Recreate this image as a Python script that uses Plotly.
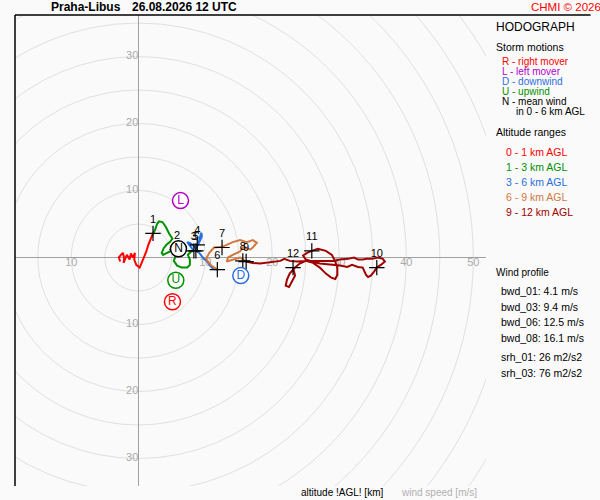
import plotly.graph_objects as go

# hodograph segments, wind components in m/s (u east, v north)
red_u = [-2.7, -2.9, -2.6, -2.3, -2.1, -2.2, -1.7, -1.3, -1.1, -0.8, -0.5, -0.6, -0.3, 0.2, 0.5, 0.8, 1.2, 1.5, 1.9, 2.2]
red_v = [-0.6, 0.0, 0.4, 0.7, -0.1, -0.8, 0.4, -0.3, 0.6, 0.0, 0.7, -0.3, -1.1, -1.5, -0.8, -0.1, 0.9, 1.9, 2.8, 3.6]

green_u = [2.2, 2.5, 2.8, 3.1, 3.6, 4.1, 4.6, 5.1, 4.7, 4.2, 3.8, 3.5, 3.7, 4.3, 4.7, 5.3, 5.8,
           5.6, 5.3, 5.8, 6.5, 7.3, 7.7, 7.7, 7.4, 7.9, 8.3]
green_v = [3.6, 4.1, 5.0, 5.4, 5.3, 4.6, 3.6, 2.8, 2.3, 1.9, 1.4, 0.7, 0.4, 0.7, 1.0, 1.2, 1.2,
           0.3, -0.5, -1.2, -1.5, -1.5, -1.1, -0.3, 0.4, 0.9, 1.0]

blue_u = [8.3, 7.6, 7.3, 7.7, 8.2, 8.6, 8.9, 9.2, 9.5, 9.4, 9.1, 8.8, 8.6, 9.1, 9.4, 9.8, 10.3, 10.7, 11.2, 11.8]
blue_v = [1.0, 1.8, 2.3, 2.2, 1.8, 1.3, 1.8, 2.5, 3.2, 3.7, 2.6, 1.9, 1.2, 0.7, 0.3, -0.2, -0.6, -1.2, -1.7, -1.8]

orange_u = [11.8, 10.9, 10.1, 10.6, 11.3, 12.5, 13.2, 14.1, 15.2, 16.2, 17.1, 17.7, 17.1, 16.7,
            15.6, 15.2, 14.1, 13.4, 13.2, 14.1, 15.2, 16.1]
orange_v = [-1.8, -1.2, -0.2, 0.7, 1.5, 1.6, 1.9, 2.3, 2.6, 2.3, 2.6, 2.2, 1.5, 1.2,
            1.5, 0.9, 0.4, 0.0, -0.6, -0.3, 0.0, -0.6]

darkred_u = [16.1, 17.1, 18.2, 19.2, 20.3, 21.2, 21.8, 22.6, 23.7, 24.9, 26.4, 27.9, 29.1, 30.1,
             31.3, 32.2, 32.8, 33.5, 34.1, 34.9, 35.8, 36.5, 36.8, 36.2, 35.6,
             35.2, 34.7, 34.3, 34.0, 33.5, 32.8, 31.9, 31.2, 30.1, 28.6, 27.1, 25.9, 25.0, 24.6,
             25.2, 25.9, 26.8, 28.0, 28.9, 29.4, 29.7, 29.7, 29.4, 28.8, 28.0, 27.1, 26.1, 25.0,
             24.1, 23.4, 22.6, 22.2, 22.0, 22.5, 22.9, 23.4, 23.1]
darkred_v = [-0.6, -0.8, -0.9, -0.8, -0.6, -0.5, -0.2, -0.5, -0.6, -0.5, -0.5, -0.5, -0.5, -0.3,
             -0.2, 0.0, -0.3, -0.3, -0.2, -0.2, 0.0, -0.2, -0.6, -1.1, -1.5,
             -2.1, -2.7, -2.9, -2.6, -1.5, -1.4, -1.1, -1.4, -1.2, -1.1, -0.9, -0.6, -0.3, 0.3,
             0.7, 1.0, 1.3, 1.0, 0.4, -0.6, -1.5, -2.6, -3.2, -3.0, -2.4, -1.5, -0.8, -0.5,
             -0.9, -1.5, -2.4, -3.3, -4.2, -4.4, -3.6, -2.7, -1.5]

# altitude marks (km AGL)
height_km = [1, 2, 3, 4, 5, 6, 7, 8, 9, 10, 11, 12]
height_u = [2.2, 5.8, 8.3, 8.8, 8.6, 11.8, 12.5, 15.6, 16.1, 35.6, 25.9, 23.1]
height_v = [3.6, 1.2, 1.0, 1.9, 1.0, -1.8, 1.5, -0.5, -0.6, -1.5, 1.0, -1.5]

# storm motions
storm_labels = ["R", "L", "D", "U", "N"]
storm_u = [5.1, 6.3, 15.3, 5.6, 6.0]
storm_v = [-6.6, 8.5, -2.7, -3.4, 1.3]
storm_colors = ["#ff0000", "#b400c8", "#2a6fe0", "#009000", "#000000"]

ring_radii = [5, 10, 15, 20, 25, 30, 35, 40, 45, 50, 55, 60, 65]
ring_label_x = [-10, 10, 20, 30, 40, 50, 0, 0, 0, 0, 0, 0]
ring_label_y = [0, 0, 0, 0, 0, 0, 10, 20, 30, -10, -20, -30]
ring_label_txt = ["10", "10", "20", "30", "40", "50", "10", "20", "30", "10", "20", "30"]

alt_ranges = ["0 - 1 km AGL", "1 - 3 km AGL", "3 - 6 km AGL", "6 - 9 km AGL", "9 - 12 km AGL"]
wind_profile = ["bwd_01: 4.1 m/s", "bwd_03: 9.4 m/s", "bwd_06: 12.5 m/s", "bwd_08: 16.1 m/s",
                "srh_01: 26 m2/s2", "srh_03: 76 m2/s2"]

FONT = "Liberation Sans, Arial, sans-serif"
BG = "#fafafa"

fig = go.Figure()

fig.add_trace(go.Scatter(
    x=ring_label_x, y=ring_label_y, text=ring_label_txt, mode="text",
    textposition=["bottom center"] * 6 + ["middle left"] * 6,
    textfont=dict(family=FONT, size=11, color="#aaaaaa"), hoverinfo="skip"))

segments = [
    (red_u, red_v, "#ff0000"),
    (green_u, green_v, "#009000"),
    (blue_u, blue_v, "#2a6fe0"),
    (orange_u, orange_v, "#d2773f"),
    (darkred_u, darkred_v, "#a00000"),
]
for u, v, c in segments:
    fig.add_trace(go.Scatter(x=u, y=v, mode="lines", line=dict(color=c, width=2)))

fig.add_trace(go.Scatter(
    x=height_u, y=height_v, mode="markers+text", text=[str(h) for h in height_km],
    textposition="top center", textfont=dict(family=FONT, size=11, color="#000000"),
    marker=dict(symbol="cross-thin", size=11, line=dict(color="#000000", width=1.2))))

fig.add_trace(go.Scatter(
    x=storm_u, y=storm_v, mode="markers+text", text=storm_labels,
    textposition="middle center", textfont=dict(family=FONT, size=12, color=storm_colors),
    marker=dict(symbol="circle", size=16, color="white",
                line=dict(color=storm_colors, width=1.5))))

for r in ring_radii:
    fig.add_shape(type="circle", xref="x", yref="y", x0=-r, y0=-r, x1=r, y1=r,
                  line=dict(color="#e0e0e0", width=1), layer="below")

# frame: left and top lines only
fig.add_shape(type="line", xref="paper", yref="paper", x0=0, y0=0, x1=0, y1=1,
              line=dict(color="#000000", width=1.5))
fig.add_shape(type="line", xref="paper", yref="paper", x0=0, y0=1, x1=1.222, y1=1,
              line=dict(color="#000000", width=1.5))


def px(x):
    return (x - 15) / 471


def py(y):
    return (486 - y) / 471


def note(x, y, text, color="#000000", size=10, bold=False):
    fig.add_annotation(x=px(x), y=py(y), xref="paper", yref="paper", text=text,
                       showarrow=False, xanchor="left", yanchor="middle",
                       font=dict(family=FONT, size=size, color=color,
                                 weight="bold" if bold else "normal"))


note(49, 7, "Praha-Libus", size=12, bold=True)
note(130, 7, "26.08.2026 12 UTC", size=12, bold=True)
note(529, 7, "CHMI © 2026", color="#ff0000", size=11.5)

note(494, 27, "HODOGRAPH", size=12)
note(494, 47, "Storm motions", size=10.5)
note(500, 62, "R - right mover", color="#ff0000")
note(500, 72, "L - left mover", color="#b400c8")
note(500, 82, "D - downwind", color="#2a6fe0")
note(500, 92, "U - upwind", color="#009000")
note(500, 102, "N - mean wind")
note(514, 112, "in 0 - 6 km AGL")

note(494, 132, "Altitude ranges", size=10.5)
for i, (label, seg) in enumerate(zip(alt_ranges, segments)):
    note(504, 152 + 15 * i, label, color=seg[2], size=10.5)

note(494, 272, "Wind profile")
for i, line in enumerate(wind_profile):
    y = 291 + 15.5 * i + (4 if i >= 4 else 0)
    note(499, y, line, size=10.5)

note(299, 492, "altitude !AGL! [km]")
note(399, 492, "wind speed [m/s]", color="#b0b0b0")

fig.update_xaxes(range=[-18.4, 51.9], showgrid=False, showticklabels=False, ticks="",
                 zeroline=True, zerolinecolor="#a0a0a0", zerolinewidth=1)
fig.update_yaxes(range=[-34.1, 36.2], showgrid=False, showticklabels=False, ticks="",
                 zeroline=True, zerolinecolor="#a0a0a0", zerolinewidth=1)
fig.update_layout(
    width=600, height=500,
    margin=dict(l=15, r=114, t=15, b=14),
    paper_bgcolor=BG, plot_bgcolor=BG,
    showlegend=False, hovermode=False,
)
fig.write_html("out.html", config={"displayModeBar": False},
               post_script="document.body.style.margin='0';")
